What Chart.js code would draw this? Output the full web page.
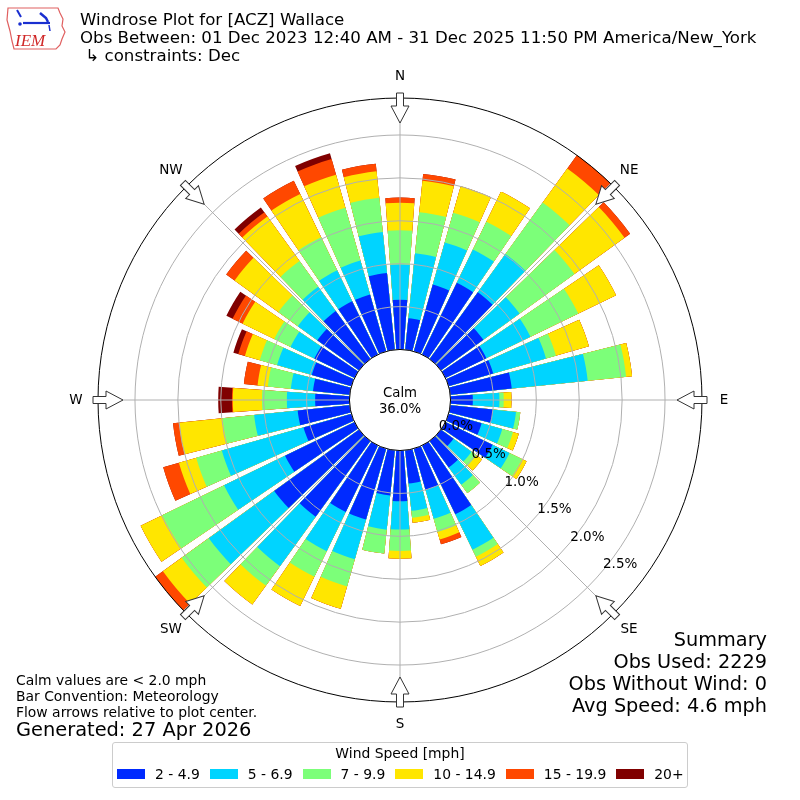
<!DOCTYPE html>
<html>
<head>
<meta charset="utf-8">
<title>Windrose Plot for [ACZ] Wallace</title>
<script src="https://cdn.jsdelivr.net/npm/chart.js@4.4.1/dist/chart.umd.min.js"></script>
<style>
  body { margin: 0; background: #fff; font-family: "DejaVu Sans", sans-serif; color: #000; }
  #wrap { position: relative; width: 800px; height: 800px; overflow: hidden; }
  #rose { position: absolute; left: 0; top: 0; }
  .txt { position: absolute; white-space: nowrap; }
  #title { left: 80px; top: 11px; font-size: 16.65px; line-height: 18px; }
  #notes { left: 16px; top: 672px; font-size: 13.9px; line-height: 16px; }
  #generated { left: 16px; top: 719px; font-size: 19.4px; line-height: 22px; }
  #summary { right: 33px; top: 629px; font-size: 19.3px; line-height: 22px; text-align: right; }
  #legend { position: absolute; left: 112px; top: 742px; width: 576px; height: 46px; box-sizing: border-box;
            border: 1px solid #cccccc; border-radius: 3px; background: #fff; font-size: 13.9px; }
  #legend .ltitle { position: absolute; left: 0; right: 0; top: 2px; text-align: center; line-height: 16px; white-space: nowrap; }
  #legend .row { position: absolute; left: 4px; top: 23px; height: 16px; display: flex; align-items: center;
                 line-height: 16px; white-space: nowrap; width: 600px; }
  #legend .sw { flex: 0 0 auto; width: 28px; height: 10px; margin-right: 10px; }
  #legend .lb { flex: 0 0 auto; margin-right: 10px; white-space: nowrap; }
  #logo { position: absolute; left: 0; top: 0; }
</style>
</head>
<body>
<div id="wrap">
  <canvas id="rose" width="800" height="800"></canvas>
  <svg id="logo" width="70" height="55" viewBox="0 0 70 55">
    <path d="M8 8 L58 8 L60 13 L63 19 L62 26 L65 32 L62 39 L60 45 L56 49 L14 49 L12 41 L10 31 L7 20 Z"
          fill="none" stroke="#e06060" stroke-width="1.2"/>
    <path d="M17 10 L21 17" stroke="#1a2fd0" stroke-width="2" fill="none"/>
    <path d="M23 23 L50 23" stroke="#1a2fd0" stroke-width="2.2" fill="none"/>
    <path d="M40 13 L46 18 L48 22" stroke="#1a2fd0" stroke-width="2.5" fill="none"/>
    <path d="M49 25 L50 31" stroke="#1a2fd0" stroke-width="1.5" fill="none"/>
    <circle cx="20" cy="24" r="1.8" fill="#1a2fd0"/>
    <text x="15" y="46" font-family="Liberation Serif, serif" font-style="italic" font-size="17" fill="#d02828">IEM</text>
  </svg>
  <div class="txt" id="title">Windrose Plot for [ACZ] Wallace<br>Obs Between: 01 Dec 2023 12:40 AM - 31 Dec 2025 11:50 PM America/New_York<br>&nbsp;↳ constraints: Dec</div>
  <div class="txt" id="notes">Calm values are &lt; 2.0 mph<br>Bar Convention: Meteorology<br>Flow arrows relative to plot center.</div>
  <div class="txt" id="generated">Generated: 27 Apr 2026</div>
  <div class="txt" id="summary">Summary<br>Obs Used: 2229<br>Obs Without Wind: 0<br>Avg Speed: 4.6 mph</div>
  <div id="legend"><div class="ltitle">Wind Speed [mph]</div><div class="row" id="legendRow"></div></div>
</div>
<script>
// wind directions (degrees, meteorological), one bar per 10 degrees
const DIRECTIONS = [0, 10, 20, 30, 40, 50, 60, 70, 80, 90, 100, 110, 120, 130, 140, 150, 160, 170,
                    180, 190, 200, 210, 220, 230, 240, 250, 260, 270, 280, 290, 300, 310, 320, 330, 340, 350];

const SPEED_LABELS = ['2 - 4.9', '5 - 6.9', '7 - 9.9', '10 - 14.9', '15 - 19.9', '20+'];
const BIN_COLORS = ['rgb(0,42,255)', 'rgb(0,212,255)', 'rgb(124,255,121)', 'rgb(255,230,0)', 'rgb(255,72,0)', 'rgb(128,0,0)'];

// frequency (%) per direction for each speed bin
const SPD_2_5 = [0.58, 0.37, 0.81, 0.93, 0.96, 0.61, 0.53, 0.54, 0.72, 0.26, 0.50, 0.40, 0.61, 0.18, 0.38, 0.89, 0.50, 0.39,
                 0.59, 0.53, 0.86, 0.86, 1.09, 1.22, 0.90, 0.58, 0.61, 0.40, 0.43, 0.48, 0.52, 0.60, 0.69, 0.69, 0.69, 0.90];
const SPD_5_7 = [0.41, 0.76, 0.51, 0.43, 0.55, 0.52, 0.57, 0.64, 0.89, 0.31, 0.27, 0.25, 0.22, 0.26, 0.25, 0.46, 0.35, 0.32,
                 0.33, 0.40, 0.48, 0.51, 0.71, 0.94, 0.79, 0.99, 0.51, 0.33, 0.26, 0.42, 0.31, 0.28, 0.35, 0.40, 0.41, 0.48];
const SPD_7_10 = [0.40, 0.48, 0.36, 0.36, 0.74, 0.79, 0.62, 0.12, 0.45, 0.05, 0.05, 0.13, 0.16, 0.07, 0.12, 0.09, 0.16, 0.08,
                  0.25, 0.28, 0.33, 0.33, 0.28, 0.39, 0.80, 0.31, 0.37, 0.29, 0.27, 0.21, 0.21, 0.28, 0.37, 0.43, 0.64, 0.40];
const SPD_10_15 = [0.32, 0.37, 0.32, 0.39, 0.49, 0.72, 0.49, 0.40, 0.07, 0.09, 0.00, 0.07, 0.06, 0.08, 0.00, 0.12, 0.09, 0.06,
                   0.09, 0.00, 0.27, 0.38, 0.27, 0.27, 0.28, 0.21, 0.51, 0.34, 0.12, 0.18, 0.41, 0.63, 0.64, 0.56, 0.40, 0.31];
const SPD_15_20 = [0.06, 0.08, 0.00, 0.00, 0.25, 0.08, 0.00, 0.00, 0.00, 0.00, 0.00, 0.00, 0.00, 0.00, 0.00, 0.00, 0.06, 0.00,
                   0.00, 0.00, 0.00, 0.00, 0.00, 0.20, 0.00, 0.19, 0.07, 0.01, 0.16, 0.08, 0.13, 0.12, 0.06, 0.17, 0.19, 0.09];
const SPD_20P = [0.00, 0.00, 0.00, 0.00, 0.00, 0.00, 0.00, 0.00, 0.00, 0.00, 0.00, 0.00, 0.00, 0.00, 0.00, 0.00, 0.00, 0.00,
                 0.00, 0.00, 0.00, 0.00, 0.00, 0.00, 0.00, 0.00, 0.00, 0.16, 0.00, 0.06, 0.08, 0.00, 0.07, 0.00, 0.07, 0.00];

const CALM_PCT = 36.0;

// radial axis: the calm circle sits below 0 %, the frame ends a bit under 3 %
const RMIN = -0.589;
const RMAX = 2.931;
const RING_VALUES = [0, 0.5, 1.0, 1.5, 2.0, 2.5];
const RING_LABELS = ['0.0%', '0.5%', '1.0%', '1.5%', '2.0%', '2.5%'];
const TICK_BEARING = 130;

const COMPASS = ['N', 'NE', 'E', 'SE', 'S', 'SW', 'W', 'NW'];

const BAR_ANGLE = 8.3;
const GAP_ANGLE = 10 - BAR_ANGLE;

// each direction is a bar followed by a blank gap slice
const labels = DIRECTIONS.flatMap(d => [d + '°', '']);

const bins = [SPD_2_5, SPD_5_7, SPD_7_10, SPD_10_15, SPD_15_20, SPD_20P];
let running = DIRECTIONS.map(() => 0);
const datasets = bins.map((bin, k) => {
    running = running.map((v, i) => v + bin[i]);
    return {
        label: SPEED_LABELS[k],
        rAxisID: 'r',
        data: running.flatMap(v => [Math.min(v, RMAX), 0]),
        backgroundColor: DIRECTIONS.flatMap(() => [BIN_COLORS[k], 'rgba(0,0,0,0)']),
        angle: DIRECTIONS.flatMap(() => [BAR_ANGLE, GAP_ANGLE]),
        borderWidth: 0
    };
});

const roseOverlay = {
    id: 'roseOverlay',
    afterDraw(chart) {
        const scale = chart.scales.rGrid;
        const ctx = chart.ctx;
        const cx = scale.xCenter;
        const cy = scale.yCenter;
        const R = scale.drawingArea;
        const calmR = scale.getDistanceFromCenterForValue(0);

        ctx.save();
        // calm circle
        ctx.beginPath();
        ctx.arc(cx, cy, calmR, 0, Math.PI * 2);
        ctx.fillStyle = '#fff';
        ctx.fill();
        ctx.lineWidth = 1;
        ctx.strokeStyle = '#000';
        ctx.stroke();

        // flow arrows on the frame
        COMPASS.forEach((name, i) => {
            ctx.save();
            ctx.translate(cx, cy);
            ctx.rotate(i * Math.PI / 4);
            ctx.beginPath();
            ctx.moveTo(-3.5, -(R + 5));
            ctx.lineTo(3.5, -(R + 5));
            ctx.lineTo(3.5, -(R - 8));
            ctx.lineTo(9, -(R - 8));
            ctx.lineTo(0, -(R - 25));
            ctx.lineTo(-9, -(R - 8));
            ctx.lineTo(-3.5, -(R - 8));
            ctx.closePath();
            ctx.fillStyle = '#fff';
            ctx.fill();
            ctx.strokeStyle = '#333';
            ctx.lineWidth = 1;
            ctx.stroke();
            ctx.restore();
        });

        // compass labels
        ctx.fillStyle = '#000';
        ctx.font = '13.5px "DejaVu Sans"';
        ctx.textAlign = 'center';
        ctx.textBaseline = 'middle';
        COMPASS.forEach((name, i) => {
            const a = i * Math.PI / 4;
            ctx.fillText(name, cx + (R + 22) * Math.sin(a), cy - (R + 22) * Math.cos(a));
        });

        // radial tick labels
        ctx.textAlign = 'left';
        ctx.textBaseline = 'alphabetic';
        const t = TICK_BEARING * Math.PI / 180;
        RING_VALUES.forEach((v, i) => {
            const d = scale.getDistanceFromCenterForValue(v);
            ctx.fillText(RING_LABELS[i], cx + d * Math.sin(t), cy - d * Math.cos(t) - 2);
        });

        // calm text
        ctx.textAlign = 'center';
        ctx.font = '13.3px "DejaVu Sans"';
        ctx.fillText('Calm', cx, cy - 3.5);
        ctx.fillText(CALM_PCT.toFixed(1) + '%', cx, cy + 12.5);
        ctx.restore();
    }
};

const chart = new Chart(document.getElementById('rose'), {
    type: 'polarArea',
    data: { labels, datasets },
    options: {
        responsive: false,
        animation: false,
        events: [],
        layout: { padding: 98 },
        plugins: {
            legend: { display: false },
            tooltip: { enabled: false }
        },
        scales: {
            r: {
                min: RMIN,
                max: RMAX,
                startAngle: -BAR_ANGLE / 2,
                grid: { display: false },
                angleLines: { display: false },
                ticks: { display: false },
                pointLabels: { display: false }
            },
            rGrid: {
                type: 'radialLinear',
                axis: 'r',
                min: RMIN,
                max: RMAX,
                startAngle: 0,
                afterBuildTicks: (scale) => {
                    scale.ticks = RING_VALUES.concat([RMAX]).map(v => ({ value: v }));
                },
                grid: {
                    z: 1,
                    circular: true,
                    lineWidth: 1,
                    color: (ctx) => (ctx.tick && ctx.tick.value === RMAX) ? '#000' : '#b0b0b0'
                },
                angleLines: {
                    display: true,
                    color: '#b0b0b0',
                    lineWidth: (ctx) => ctx.index % 9 === 0 ? 1 : 0
                },
                ticks: { display: false },
                pointLabels: { display: false }
            }
        }
    },
    plugins: [roseOverlay]
});

// legend
const legendRow = document.getElementById('legendRow');
SPEED_LABELS.forEach((name, k) => {
    const sw = document.createElement('span');
    sw.className = 'sw';
    sw.style.background = BIN_COLORS[k];
    const lb = document.createElement('span');
    lb.className = 'lb';
    lb.textContent = name;
    legendRow.appendChild(sw);
    legendRow.appendChild(lb);
});
</script>
</body>
</html>
